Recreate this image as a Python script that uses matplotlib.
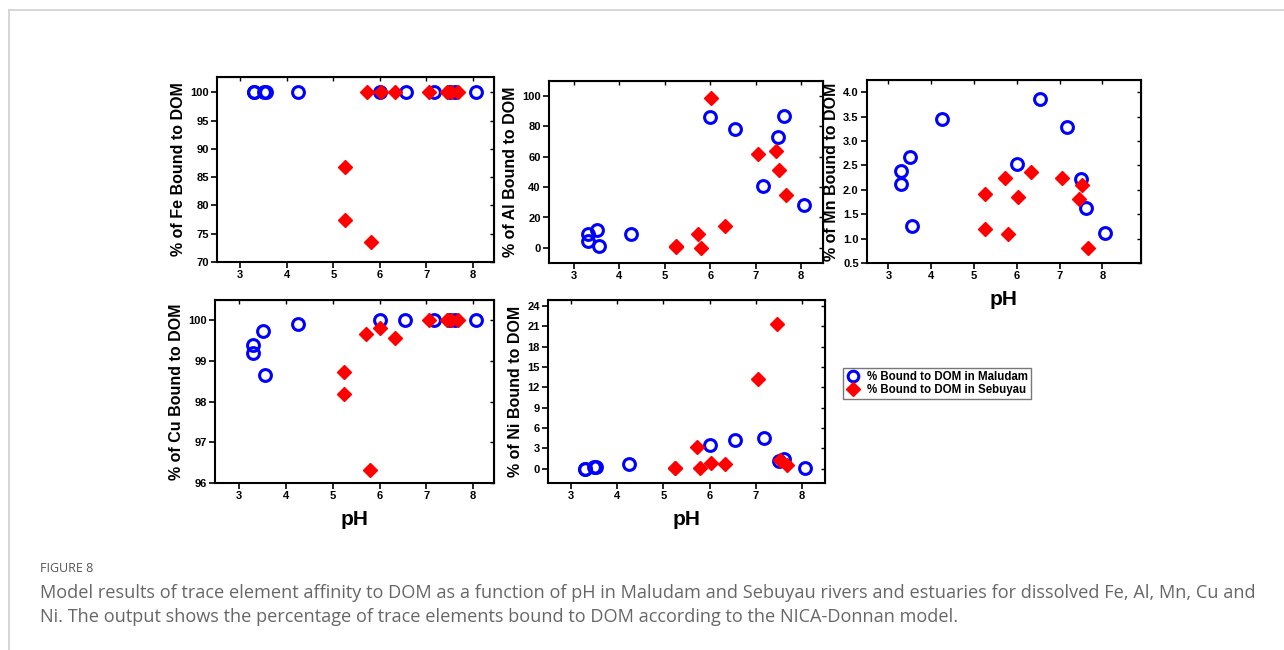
import matplotlib.pyplot as plt
import numpy as np

# pH of sampling stations
ph_maludam = [3.3, 3.3, 3.5, 3.55, 4.25, 6.0, 6.55, 7.17, 7.5, 7.62, 8.07]
ph_sebuyau = [5.25, 5.25, 5.72, 5.8, 6.02, 6.33, 7.05, 7.45, 7.52, 7.67]

# % bound to DOM
fe_maludam = [100, 100, 100, 100, 100, 100, 100, 100, 100, 100, 100]
fe_sebuyau = [86.8, 77.5, 100, 73.6, 100, 100, 100, 100, 100, 100]
al_maludam = [8.8, 4.8, 12, 1.5, 8.8, 86.4, 78.1, 40.9, 73, 86.9, 28.2]
al_sebuyau = [0.5, 1.0, 8.8, 0, 99, 14.2, 62, 64, 51.4, 34.8]
mn_maludam = [2.38, 2.12, 2.68, 1.25, 3.45, 2.53, 3.86, 3.29, 2.23, 1.62, 1.12]
mn_sebuyau = [1.91, 1.2, 2.25, 1.1, 1.86, 2.37, 2.25, 1.82, 2.1, 0.81]
cu_maludam = [99.39, 99.2, 99.74, 98.66, 99.92, 100, 100, 100, 100, 100, 100]
cu_sebuyau = [98.73, 98.19, 99.67, 96.33, 99.82, 99.57, 100, 100, 100, 100]
ni_maludam = [0, 0, 0.2, 0.25, 0.64, 3.55, 4.19, 4.58, 1.2, 1.48, 0.1]
ni_sebuyau = [0.05, 0.1, 3.2, 0.05, 0.9, 0.64, 13.2, 21.3, 1.23, 0.5]

W, H = 1284, 650
plt.rcParams['font.family'] = ['Liberation Sans', 'DejaVu Sans']
fig = plt.figure(figsize=(W / 100, H / 100), dpi=100)

def px_axes(left, top, right, bottom):
    return fig.add_axes([left / W, 1 - bottom / H, (right - left) / W, (bottom - top) / H])

def panel(box, xlim, ylim, yticks, ylabel, ym, ys, fmt=None, xlabel=False):
    ax = px_axes(*box)
    ax.plot(ph_maludam, ym, 'o', ms=8.5, mfc='none', mec='#0000ff', mew=2.2, ls='none',
            label='% Bound to DOM in Maludam', clip_on=False)
    ax.plot(ph_sebuyau, ys, 'D', ms=7.5, color='#ff0000', ls='none',
            label='% Bound to DOM in Sebuyau', clip_on=False)
    ax.set_xlim(*xlim)
    ax.set_ylim(*ylim)
    ax.set_xticks([3, 4, 5, 6, 7, 8])
    ax.set_yticks(yticks)
    if fmt:
        ax.set_yticklabels([fmt % v for v in yticks])
    ax.tick_params(axis='both', which='major', direction='out', length=4, width=1.2,
                   labelsize=8, pad=2)
    for lab in ax.get_xticklabels() + ax.get_yticklabels():
        lab.set_fontweight('bold')
    for s in ax.spines.values():
        s.set_linewidth(1.5)
    ax.set_ylabel(ylabel, fontsize=11.5, fontweight='bold', labelpad=3)
    if xlabel:
        ax.set_xlabel('pH', fontsize=15, fontweight='bold', labelpad=6)
    # inward ticks on top and right
    sec_x = ax.secondary_xaxis('top')
    sec_x.set_xticks([3, 4, 5, 6, 7, 8])
    sec_x.tick_params(direction='in', length=3, width=1, labeltop=False)
    sec_y = ax.secondary_yaxis('right')
    sec_y.set_yticks(yticks)
    sec_y.tick_params(direction='in', length=3, width=1, labelright=False)
    ax.tick_params(top=False, right=False)
    return ax

panel((217, 77, 494, 262), (2.5, 8.45), (70, 102.7), [70, 75, 80, 85, 90, 95, 100],
      '% of Fe Bound to DOM', fe_maludam, fe_sebuyau)
panel((549, 81, 823, 263), (2.45, 8.48), (-10, 110), [0, 20, 40, 60, 80, 100],
      '% of Al Bound to DOM', al_maludam, al_sebuyau)
panel((867, 80, 1141, 263), (2.5, 8.9), (0.5, 4.25), [0.5, 1.0, 1.5, 2.0, 2.5, 3.0, 3.5, 4.0],
      '% of Mn Bound to DOM', mn_maludam, mn_sebuyau, fmt='%.1f', xlabel=True)
panel((215, 300, 494, 483), (2.48, 8.45), (96, 100.5), [96, 97, 98, 99, 100],
      '% of Cu Bound to DOM', cu_maludam, cu_sebuyau, xlabel=True)
ax_ni = panel((548, 300, 825, 483), (2.5, 8.5), (-2.1, 24.9), [0, 3, 6, 9, 12, 15, 18, 21, 24],
              '% of Ni Bound to DOM', ni_maludam, ni_sebuyau, xlabel=True)

h, l = ax_ni.get_legend_handles_labels()
leg = fig.legend(h, l, loc='upper left', bbox_to_anchor=(843 / W, 1 - 368 / H),
                 prop={'weight': 'bold', 'size': 8.3}, frameon=True, fancybox=False,
                 borderpad=0.25, handletextpad=0.6, labelspacing=0.1, handlelength=1.2,
                 borderaxespad=0, markerscale=0.9)
leg.get_frame().set_edgecolor('#555555')
leg.get_frame().set_linewidth(1.0)

# outer frame of the figure card
fig.add_artist(plt.Line2D([9 / W, 1], [1 - 10 / H, 1 - 10 / H], color='#d0d0d0', lw=1.2))
fig.add_artist(plt.Line2D([9 / W, 9 / W], [0, 1 - 10 / H], color='#d0d0d0', lw=1.2))

fig.text(40 / W, 1 - 569 / H, 'FIGURE 8', fontsize=9, color='#555555', va='center',
         family=['Open Sans', 'DejaVu Sans'])
fig.text(40 / W, 1 - 593 / H,
         'Model results of trace element affinity to DOM as a function of pH in Maludam and Sebuyau rivers and estuaries for dissolved Fe, Al, Mn, Cu and',
         fontsize=13.1, color='#666666', va='center', family=['Open Sans', 'DejaVu Sans'])
fig.text(40 / W, 1 - 617 / H,
         'Ni. The output shows the percentage of trace elements bound to DOM according to the NICA-Donnan model.',
         fontsize=13.1, color='#666666', va='center', family=['Open Sans', 'DejaVu Sans'])

fig.savefig('out.png', dpi=100)
